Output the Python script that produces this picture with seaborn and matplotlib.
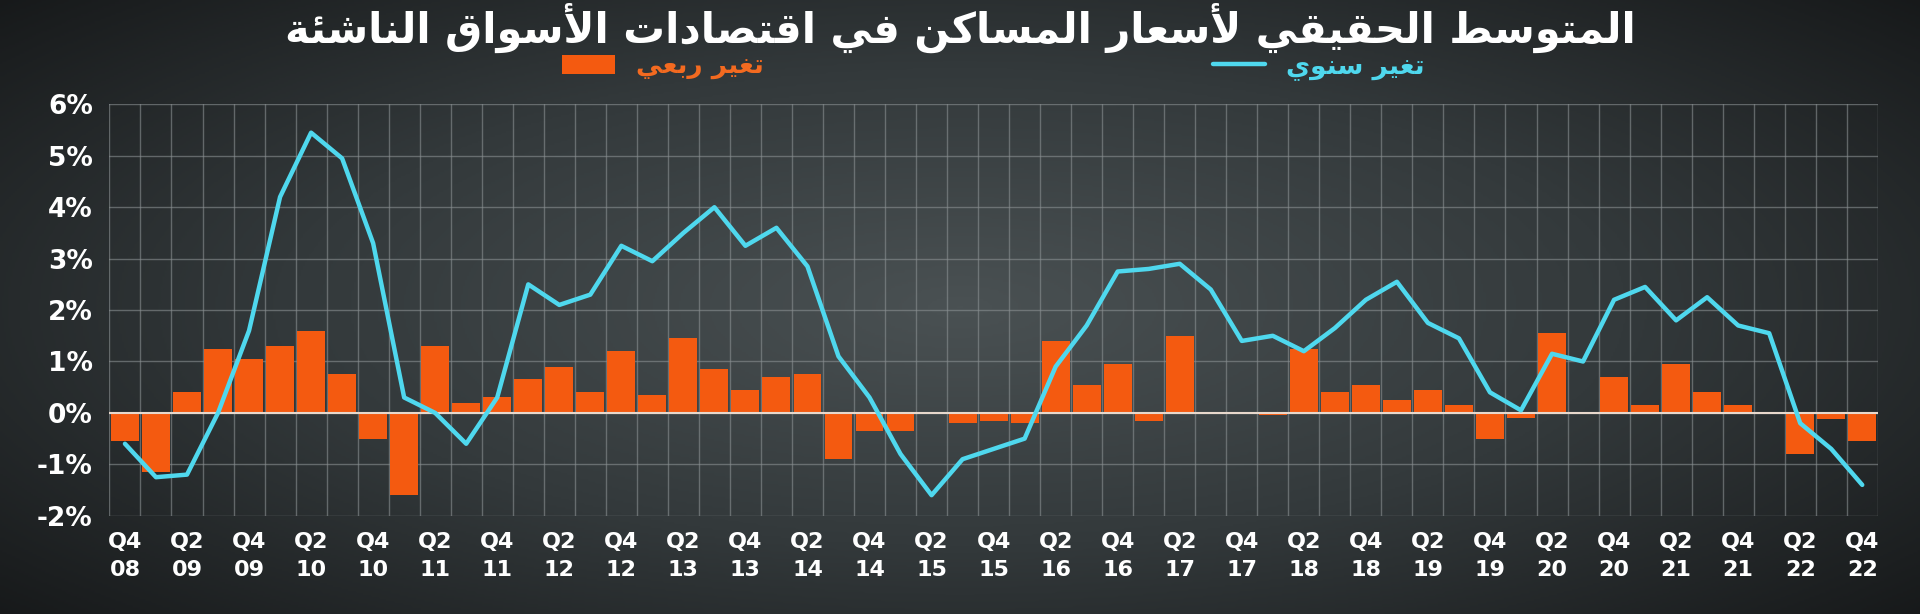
import numpy as np
import pandas as pd
import matplotlib
matplotlib.use('Agg')
import matplotlib.pyplot as plt
import seaborn as sns

# quarters Q4 08 .. Q4 22
quarters = ['Q4 08'] + ['Q%d %02d' % (q, y) for y in range(9, 23) for q in range(1, 5)]
quarterly_change = [-0.55, -1.15, 0.4, 1.25, 1.05, 1.3, 1.6, 0.75, -0.5, -1.6,
                    1.3, 0.2, 0.3, 0.65, 0.9, 0.4, 1.2, 0.35, 1.45, 0.85,
                    0.45, 0.7, 0.75, -0.9, -0.35, -0.35, 0.0, -0.2, -0.15, -0.2,
                    1.4, 0.55, 0.95, -0.15, 1.5, 0.02, 0.0, -0.05, 1.25, 0.4,
                    0.55, 0.25, 0.45, 0.15, -0.5, -0.1, 1.55, 0.0, 0.7, 0.15,
                    0.95, 0.4, 0.15, 0.02, -0.8, -0.12, -0.55]
annual_change = [-0.6, -1.25, -1.2, 0.0, 1.6, 4.2, 5.45, 4.95, 3.3, 0.3,
                 0.0, -0.6, 0.3, 2.5, 2.1, 2.3, 3.25, 2.95, 3.5, 4.0,
                 3.25, 3.6, 2.85, 1.1, 0.3, -0.8, -1.6, -0.9, -0.7, -0.5,
                 0.9, 1.7, 2.75, 2.8, 2.9, 2.4, 1.4, 1.5, 1.2, 1.65,
                 2.2, 2.55, 1.75, 1.45, 0.4, 0.05, 1.15, 1.0, 2.2, 2.45,
                 1.8, 2.25, 1.7, 1.55, -0.2, -0.7, -1.4]
yticks = [-2, -1, 0, 1, 2, 3, 4, 5, 6]

title_text = 'المتوسط الحقيقي لأسعار المساكن في اقتصادات الأسواق الناشئة'
bar_label = 'تغير ربعي'
line_label = 'تغير سنوي'

# --- tiny arabic shaper (no arabic_reshaper available) ---
FORMS = {  # iso, final, initial, medial
    'ا': (0xFE8D, 0xFE8E), 'أ': (0xFE83, 0xFE84), 'ة': (0xFE93, 0xFE94),
    'د': (0xFEA9, 0xFEAA), 'ر': (0xFEAD, 0xFEAE), 'و': (0xFEED, 0xFEEE),
    'ب': (0xFE8F, 0xFE90, 0xFE91, 0xFE92), 'ت': (0xFE95, 0xFE96, 0xFE97, 0xFE98),
    'ح': (0xFEA1, 0xFEA2, 0xFEA3, 0xFEA4), 'س': (0xFEB1, 0xFEB2, 0xFEB3, 0xFEB4),
    'ش': (0xFEB5, 0xFEB6, 0xFEB7, 0xFEB8), 'ص': (0xFEB9, 0xFEBA, 0xFEBB, 0xFEBC),
    'ط': (0xFEC1, 0xFEC2, 0xFEC3, 0xFEC4), 'ع': (0xFEC9, 0xFECA, 0xFECB, 0xFECC),
    'غ': (0xFECD, 0xFECE, 0xFECF, 0xFED0), 'ف': (0xFED1, 0xFED2, 0xFED3, 0xFED4),
    'ق': (0xFED5, 0xFED6, 0xFED7, 0xFED8), 'ك': (0xFED9, 0xFEDA, 0xFEDB, 0xFEDC),
    'ل': (0xFEDD, 0xFEDE, 0xFEDF, 0xFEE0), 'م': (0xFEE1, 0xFEE2, 0xFEE3, 0xFEE4),
    'ن': (0xFEE5, 0xFEE6, 0xFEE7, 0xFEE8), 'ي': (0xFEF1, 0xFEF2, 0xFEF3, 0xFEF4),
    'ئ': (0xFE89, 0xFE8A, 0xFE8B, 0xFE8C),
    'لأ': (0xFEF7, 0xFEF8), 'لا': (0xFEFB, 0xFEFC),
}


def shape(s):
    toks = []
    i = 0
    while i < len(s):
        if s[i] == 'ل' and i + 1 < len(s) and s[i + 1] in 'اأ':
            toks.append(s[i:i + 2]); i += 2
        else:
            toks.append(s[i]); i += 1
    out = []
    for k, t in enumerate(toks):
        if t not in FORMS:
            out.append(t); continue
        f = FORMS[t]
        prev = toks[k - 1] if k > 0 else None
        nxt = toks[k + 1] if k + 1 < len(toks) else None
        pc = prev in FORMS and len(FORMS[prev]) == 4
        nc = len(f) == 4 and nxt in FORMS
        if pc and nc:
            c = f[3]
        elif nc:
            c = f[2]
        elif pc:
            c = f[1]
        else:
            c = f[0]
        out.append(chr(c))
    return ''.join(out)[::-1]


df = pd.DataFrame({'quarter': quarters, 'qoq': quarterly_change, 'yoy': annual_change})
df['pos'] = np.arange(len(df))

sns.set_style('dark')
plt.rcParams['font.family'] = ['DejaVu Sans']

fig = plt.figure(figsize=(19.2, 6.14), dpi=100)

# dark radial background
bg = fig.add_axes([0, 0, 1, 1], zorder=-10)
yy, xx = np.mgrid[-1:1:300j, -1:1:900j]
r = np.sqrt((xx * 0.9) ** 2 + (yy * 0.8) ** 2)
bg.imshow(r, cmap=matplotlib.colors.LinearSegmentedColormap.from_list(
    'bgc', ['#4a5153', '#33393b', '#151718']), aspect='auto', extent=[0, 1, 0, 1], vmin=0, vmax=1.25)
bg.axis('off')

ax = fig.add_axes([0.057, 0.16, 0.921, 0.67])
ax.set_facecolor('none')

sns.barplot(data=df, x='pos', y='qoq', color='#f45a10', width=0.9, saturation=1,
            linewidth=0, ax=ax, label=shape(bar_label), zorder=3)
sns.lineplot(data=df, x='pos', y='yoy', color='#4fd8ee', linewidth=3.2,
             ax=ax, label=shape(line_label), zorder=4)

ax.axhline(0, color='#e8d8cc', lw=1.5, zorder=3.5)
ax.set_xlim(-0.5, len(df) - 0.5)
ax.set_ylim(-2, 6)
ax.set_yticks(yticks)
ax.set_yticklabels(['%d%%' % v for v in yticks], color='white', fontsize=19, fontweight='bold')
ax.set_xticks(df['pos'][::2])
ax.set_xticklabels([q.replace(' ', '\n') for q in df['quarter'][::2]],
                   color='white', fontsize=16, fontweight='bold', linespacing=1.5)
ax.set_xticks(np.arange(-0.5, len(df)), minor=True)
ax.tick_params(axis='both', which='both', length=0, pad=12)
ax.grid(False)
ax.grid(axis='y', which='major', color='#8a9092', lw=1, alpha=0.6, zorder=0)
ax.grid(axis='x', which='minor', color='#8a9092', lw=1, alpha=0.6, zorder=0)
ax.set_xlabel('')
ax.set_ylabel('')
for s in ax.spines.values():
    s.set_visible(False)

handles, labels = ax.get_legend_handles_labels()
order = [labels.index(shape(bar_label)), labels.index(shape(line_label))]
leg = ax.legend([handles[i] for i in order], [labels[i] for i in order],
                loc='lower center', bbox_to_anchor=(0.5, 1.0), ncol=2, frameon=False,
                fontsize=19, columnspacing=17, handlelength=2.0, handletextpad=0.8)
for t, c in zip(leg.get_texts(), ['#f36a20', '#4fd8ee']):
    t.set_color(c)
    t.set_fontweight('bold')

fig.text(0.5, 0.955, shape(title_text), ha='center', va='center', color='white',
         fontsize=30, fontweight='bold')

fig.savefig('out.png', dpi=100)
